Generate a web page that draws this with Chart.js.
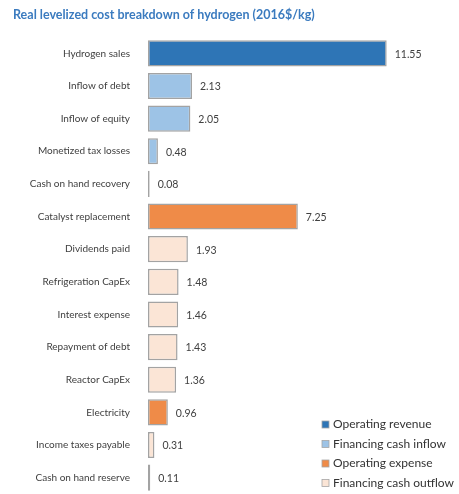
<!DOCTYPE html>
<html>
<head>
<meta charset="utf-8">
<script src="https://cdn.jsdelivr.net/npm/chart.js@4/dist/chart.umd.min.js"></script>
<style>
  html, body { margin: 0; padding: 0; background: #fff; }
  #wrap { width: 459px; height: 494px; }
</style>
</head>
<body>
<div id="wrap"><canvas id="costChart"></canvas></div>
<script>
// levelized cost items, $/kg (2016$)
var items = ['Hydrogen sales', 'Inflow of debt', 'Inflow of equity', 'Monetized tax losses',
    'Cash on hand recovery', 'Catalyst replacement', 'Dividends paid', 'Refrigeration CapEx',
    'Interest expense', 'Repayment of debt', 'Reactor CapEx', 'Electricity',
    'Income taxes payable', 'Cash on hand reserve'];
var costs = [11.55, 2.13, 2.05, 0.48, 0.08, 7.25, 1.93, 1.48, 1.46, 1.43, 1.36, 0.96, 0.31, 0.11];
// group index of each item: 0 revenue, 1 cash inflow, 2 op expense, 3 cash outflow
var groups = [0, 1, 1, 1, 1, 2, 3, 3, 3, 3, 3, 2, 3, 2];
var groupNames = ['Operating revenue', 'Financing cash inflow', 'Operating expense', 'Financing cash outflow'];
var groupColors = ['#2e75b6', '#9dc3e6', '#ef8b48', '#fbe5d6'];

const FONT = 'Lato, "Open Sans", sans-serif';

// number at the end of every bar
const valueLabels = {
    id: 'valueLabels',
    afterDatasetsDraw(chart) {
        const ctx = chart.ctx;
        const meta = chart.getDatasetMeta(0);
        ctx.save();
        ctx.font = '10.5px ' + FONT;
        ctx.fillStyle = '#404040';
        ctx.textAlign = 'left';
        ctx.textBaseline = 'middle';
        meta.data.forEach(function(bar, i) {
            ctx.fillText(costs[i].toFixed(2), bar.x + 8, bar.y + 1);
        });
        ctx.restore();
    }
};

// legend sits inside the plot, bottom right
const cornerLegend = {
    id: 'cornerLegend',
    afterDraw(chart) {
        const ctx = chart.ctx;
        const area = chart.chartArea;
        const x = area.right - 136;
        const step = 19.5;
        let y = 483 - step * (groupNames.length - 1);
        ctx.save();
        ctx.font = '12px ' + FONT;
        ctx.textBaseline = 'middle';
        groupNames.forEach(function(name, i) {
            ctx.fillStyle = groupColors[i];
            ctx.fillRect(x, y - 3.5, 7, 7);
            ctx.strokeStyle = '#a6a6a6';
            ctx.lineWidth = 0.8;
            ctx.strokeRect(x, y - 3.5, 7, 7);
            ctx.fillStyle = '#333333';
            ctx.fillText(name, x + 11, y);
            y += step;
        });
        ctx.restore();
    }
};

new Chart(document.getElementById('costChart'), {
    type: 'bar',
    data: {
        labels: items,
        datasets: [{
            data: costs,
            backgroundColor: groups.map(g => groupColors[g]),
            borderColor: '#a3a3a3',
            borderWidth: 1.5,
            borderSkipped: false,
            categoryPercentage: 1,
            barPercentage: 0.8
        }]
    },
    options: {
        indexAxis: 'y',
        responsive: true,
        maintainAspectRatio: false,
        animation: false,
        layout: { padding: { left: 13, right: 1, top: 0, bottom: 0 } },
        plugins: {
            legend: { display: false },
            tooltip: { enabled: false },
            title: {
                display: true,
                text: 'Real levelized cost breakdown of hydrogen (2016$/kg)',
                align: 'start',
                color: '#3b7bbf',
                font: { family: FONT, size: 12.5, weight: 'bold' },
                padding: { top: 7, bottom: 15 }
            }
        },
        scales: {
            x: {
                display: false,
                min: 0,
                max: 15
            },
            y: {
                grid: { display: false },
                border: { display: false },
                ticks: {
                    color: '#404040',
                    font: { family: FONT, size: 10 },
                    padding: 10
                },
                afterFit(scale) {
                    scale.width = 135;
                    scale.paddingTop = 0;
                    scale.paddingBottom = 0;
                }
            }
        }
    },
    plugins: [valueLabels, cornerLegend]
});
</script>
</body>
</html>
